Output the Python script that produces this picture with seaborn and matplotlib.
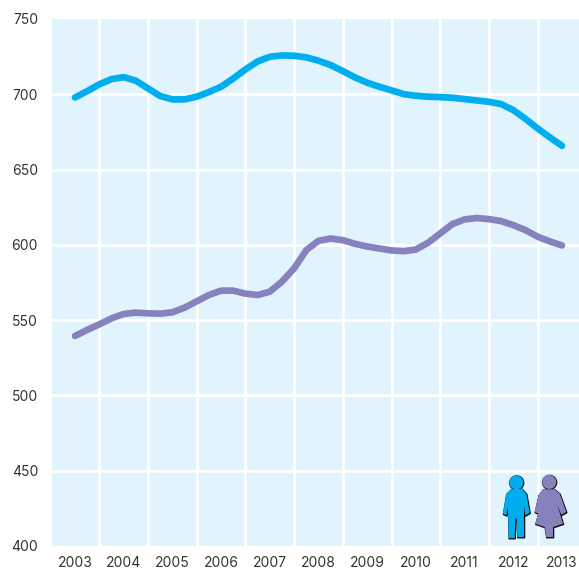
import matplotlib
matplotlib.use("Agg")
import matplotlib.pyplot as plt
from matplotlib.patches import Polygon, Circle
import seaborn as sns
import pandas as pd

years = [2003 + i * 0.25 for i in range(41)]
men = [697.9, 702.1, 706.6, 710.1, 711.4, 709, 703.9, 698.8, 696.6, 696.6,
       698.4, 701.5, 705, 710.5, 716.5, 721.8, 724.9, 725.8, 725.6, 724.5,
       722.3, 719.4, 715.4, 711.2, 707.7, 705, 702.6, 700.1, 699, 698.4,
       698.1, 697.7, 696.8, 695.9, 695, 693.5, 689.5, 683.7, 677.3, 671.4, 665.8]
women = [539.5, 543.5, 547.2, 551.2, 554.1, 555, 554.5, 554.3, 555.2, 558.3,
         562.5, 566.7, 569.6, 569.6, 567.6, 566.7, 568.9, 575.6, 584.4, 596.5,
         602.7, 604.2, 603.1, 600.7, 598.9, 597.6, 596.3, 595.8, 596.9, 601.4,
         607.6, 613.8, 616.9, 617.8, 617.1, 615.8, 613.1, 609.8, 605.4, 602.3, 599.6]
tick_years = list(range(2003, 2014))
y_ticks = [400, 450, 500, 550, 600, 650, 700, 750]

CYAN = "#00aeef"
PURPLE = "#8781bd"
W, H = 579, 570

sns.set_theme(style="white")
plt.rcParams["font.family"] = ["Inter", "DejaVu Sans"]
fig = plt.figure(figsize=(W / 100, H / 100), dpi=100)
L, R, T, B = 52, 579, 19, 546
ax = fig.add_axes([L / W, 1 - B / H, (R - L) / W, (B - T) / H])
ax.set_facecolor("#e1f3fd")

df = pd.DataFrame({"year": years + years, "value": men + women,
                   "group": ["Men"] * len(years) + ["Women"] * len(years)})
sns.lineplot(data=df, x="year", y="value", hue="group",
             palette={"Men": CYAN, "Women": PURPLE}, linewidth=4.8, legend=False, ax=ax,
             solid_capstyle="round", solid_joinstyle="round", clip_on=False, zorder=3)

px = 48.7
ax.set_xlim(2003 - (75 - L) / px, 2003 + (R - 75) / px)
ax.set_ylim(400, 750)
ax.set_xticks(tick_years)
ax.set_xticklabels([str(y) for y in tick_years])
ax.set_yticks(y_ticks)
ax.tick_params(axis="both", length=0, labelsize=10, labelcolor="#333333")
ax.tick_params(axis="x", pad=7)
ax.tick_params(axis="y", pad=10)
ax.set_xlabel("")
ax.set_ylabel("")
for s in ax.spines.values():
    s.set_visible(False)
for v in y_ticks[1:-1]:
    ax.axhline(v, color="white", lw=2.0, zorder=1)
for y in tick_years[:-1]:
    ax.axvline(y + 0.5, color="white", lw=2.0, zorder=1)

# pictogram overlay in pixel coordinates
ov = fig.add_axes([0, 0, 1, 1], facecolor="none")
ov.set_xlim(0, W)
ov.set_ylim(H, 0)
ov.axis("off")
man = [(510.7, 489.3), (522, 488.7), (526.3, 493.7), (529.7, 512.7), (525.3, 515.3), (524, 505.3),
       (524, 537), (517.3, 537), (516.7, 518.7), (515.3, 518.7), (514.7, 538), (508.7, 538),
       (508, 507), (506.3, 515.3), (503, 513.7), (506.3, 493.7)]
woman = [(543, 489.3), (554.7, 489.3), (559.7, 493.7), (566.3, 512), (561.3, 514.7), (557.3, 505.3),
         (563, 523.7), (553, 527), (553, 537), (546.3, 537), (544.7, 527), (535.3, 523.7),
         (540.7, 505.3), (538.7, 513.7), (534.7, 512), (538.7, 494.7)]
for pts, c, head in ((man, CYAN, (516.3, 482.5)), (woman, PURPLE, (549.2, 482))):
    ov.add_patch(Polygon([(x + 0.5, y + 0.7) for x, y in pts], fc="#111111", ec="#111111", lw=1.1, joinstyle="round"))
    ov.add_patch(Circle((head[0] + 0.4, head[1] + 0.4), 7.7, fc="#111111", ec="none"))
    ov.add_patch(Polygon(pts, fc=c, ec="none"))
    ov.add_patch(Circle(head, 7, fc=c, ec="none"))

fig.savefig("out.png", dpi=100)
